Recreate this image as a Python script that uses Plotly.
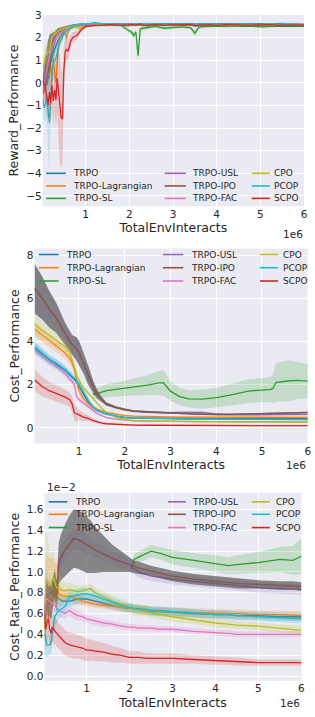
import plotly.graph_objects as go

W, H = 315, 717

methods = ["TRPO", "TRPO-Lagrangian", "TRPO-SL", "TRPO-USL", "TRPO-IPO",
           "TRPO-FAC", "CPO", "PCOP", "SCPO"]
line_colors = ["#1f77b4", "#ff7f0e", "#2ca02c", "#9467bd", "#8c564b",
               "#e377c2", "#bcbd22", "#17becf", "#d62728"]
band_colors = ["rgba(31,119,180,0.2)", "rgba(255,127,14,0.2)", "rgba(44,160,44,0.2)",
               "rgba(148,103,189,0.2)", "rgba(90,90,90,0.7)", "rgba(227,119,194,0.2)",
               "rgba(188,189,34,0.2)", "rgba(23,190,207,0.2)", "rgba(214,39,40,0.2)"]

x_ticks = [1, 2, 3, 4, 5, 6]

# ---------------- Reward_Performance ----------------
reward_x = [0.02, 0.05, 0.08, 0.11, 0.14, 0.17, 0.2, 0.23, 0.26, 0.29, 0.32, 0.35, 0.38,
            0.41, 0.44, 0.47, 0.5, 0.53, 0.56, 0.6, 0.65, 0.7, 0.75, 0.8, 0.9, 1.0,
            1.1, 1.2, 1.4, 1.6, 1.8, 2.0, 2.05, 2.1, 2.15, 2.2, 2.25, 2.3, 2.4, 2.6, 2.8,
            3.0, 3.2, 3.4, 3.5, 3.6, 3.8, 4.0, 4.2, 4.4, 4.6, 4.8, 5.0, 5.2, 5.4, 5.6,
            5.8, 6.0]
reward_trpo = [-0.5, -0.3, 0.0, 0.3, 0.5, 0.7, 1.0, 1.2, 1.35, 1.5, 1.65, 1.8, 1.95, 2.05,
               2.1, 2.2, 2.3, 2.35, 2.4, 2.45, 2.5, 2.55, 2.57, 2.58, 2.6, 2.58,
               2.57, 2.6, 2.58, 2.61, 2.59, 2.6, 2.58, 2.61, 2.6, 2.59, 2.62, 2.6, 2.58, 2.6,
               2.61, 2.59, 2.6, 2.62, 2.6, 2.58, 2.6, 2.61, 2.59, 2.6, 2.62, 2.6, 2.59, 2.61,
               2.6, 2.58, 2.6, 2.59]
reward_lag = [-0.2, -0.3, -0.1, 0.1, 0.3, 0.2, 0.8, 0.3, 1.1, 0.5, 0.0, 0.9, 1.7, 1.9, 2.0,
              2.1, 2.25, 2.3, 1.95, 2.3, 2.4, 2.45, 2.5, 2.52, 2.55, 2.55,
              2.56, 2.58, 2.55, 2.57, 2.56, 2.58, 2.57, 2.55, 2.58, 2.56, 2.57, 2.55, 2.58,
              2.56, 2.57, 2.59, 2.56, 2.55, 2.57, 2.58, 2.56, 2.57, 2.55, 2.58, 2.56, 2.57,
              2.58, 2.56, 2.55, 2.57, 2.56, 2.57]
reward_sl = [None, None, None, None, None, None, None, None, None, None, None, None, None,
             None, None, None, None, None, None, None, None, None, None,
             2.55, 2.57, 2.56, 2.58, 2.57, 2.56, 2.55, 2.56, 2.3, 2.25, 2.1, 2.25, 1.2, 2.4,
             2.42, 2.45, 2.5, 2.42, 2.45, 2.48, 2.45, 2.2, 2.48, 2.5, 2.52, 2.5, 2.53, 2.5,
             2.52, 2.48, 2.5, 2.52, 2.5, 2.51, 2.5]
reward_usl = [-0.2, 0.3, 0.6, 0.9, 1.1, 1.3, 1.55, 1.75, 1.9, 2.0, 2.1, 2.2, 2.25, 2.3, 2.32,
              2.35, 2.4, 2.42, 2.45, 2.47, 2.5, 2.52, 2.55, 2.56, 2.57, 2.58,
              2.58, 2.57, 2.59, 2.57, 2.58, 2.6, 2.57, 2.58, 2.59, 2.57, 2.58, 2.6, 2.57,
              2.59, 2.58, 2.57, 2.6, 2.58, 2.57, 2.59, 2.58, 2.6, 2.57, 2.58, 2.59, 2.6,
              2.58, 2.57, 2.62, 2.58, 2.59, 2.58]
reward_ipo = [0.0, 0.2, 0.5, 0.8, 0.9, 1.2, 1.5, 1.7, 1.85, 1.95, 2.1, 2.2, 2.25, 2.3, 2.35,
              2.38, 2.4, 2.42, 2.45, 2.48, 2.5, 2.52, 2.55, 2.56, 2.57, 2.57,
              2.58, 2.56, 2.57, 2.59, 2.57, 2.56, 2.58, 2.57, 2.56, 2.58, 2.57, 2.59, 2.56,
              2.57, 2.58, 2.56, 2.57, 2.59, 2.57, 2.56, 2.58, 2.57, 2.58, 2.56, 2.57, 2.58,
              2.6, 2.57, 2.58, 2.57, 2.56, 2.57]
reward_fac = [-0.35, 0.0, 0.3, 0.65, 0.9, 1.2, 1.4, 1.6, 1.75, 1.85, 2.0, 2.1, 2.15, 2.2,
              2.25, 2.3, 2.32, 2.35, 2.4, 2.42, 2.45, 2.5, 2.52, 2.55, 2.56, 2.57,
              2.57, 2.59, 2.58, 2.56, 2.58, 2.59, 2.57, 2.58, 2.6, 2.58, 2.57, 2.59, 2.58,
              2.6, 2.57, 2.58, 2.59, 2.57, 2.58, 2.6, 2.58, 2.57, 2.59, 2.58, 2.6, 2.58,
              2.57, 2.59, 2.58, 2.6, 2.58, 2.6]
reward_cpo = [0.6, 0.9, 1.2, 1.25, 1.4, 1.35, 1.8, 2.05, 2.1, 2.2, 2.2, 2.25, 2.3, 2.35,
              2.35, 2.4, 2.42, 2.45, 2.45, 2.48, 2.5, 2.52, 2.5, 2.45, 2.42, 2.5,
              2.55, 2.56, 2.57, 2.55, 2.56, 2.58, 2.56, 2.55, 2.57, 2.56, 2.58, 2.55, 2.56,
              2.57, 2.55, 2.56, 2.58, 2.56, 2.55, 2.57, 2.56, 2.55, 2.57, 2.56, 2.58, 2.55,
              2.56, 2.57, 2.55, 2.56, 2.57, 2.56]
reward_pcop = [-0.7, -1.1, -0.9, -0.5, -1.2, -1.75, -0.7, 0.5, 0.85, 1.0, 1.1, 1.35, 1.6,
               1.8, 1.9, 2.05, 2.15, 2.25, 2.3, 2.35, 2.45, 2.5, 2.55, 2.58, 2.6, 2.6,
               2.62, 2.68, 2.6, 2.62, 2.58, 2.6, 2.61, 2.59, 2.62, 2.6, 2.58, 2.61, 2.6,
               2.62, 2.59, 2.6, 2.61, 2.6, 2.58, 2.62, 2.6, 2.59, 2.61, 2.6, 2.62, 2.6,
               2.59, 2.61, 2.6, 2.62, 2.58, 2.55]
reward_scpo = [0.1, -0.05, -0.2, -0.6, -1.0, -0.4, -0.9, -0.1, -0.8, -0.3, -0.75, 0.2,
               -0.5, -1.2, -1.55, -1.6, 0.5, 1.35, 1.5, 1.4, 1.8, 2.0, 2.05, 2.1, 2.35, 2.5,
               2.52, 2.55, 2.56, 2.58, 2.55, 2.57, 2.56, 2.58, 2.55, 2.57, 2.6, 2.56, 2.55,
               2.58, 2.55, 2.57, 2.56, 2.58, 2.52, 2.56, 2.57, 2.55, 2.58, 2.56, 2.57, 2.55,
               2.56, 2.58, 2.55, 2.57, 2.56, 2.56]

# spread (std) of the reward runs: first 26 points per method, then a shared plateau part
reward_sd_late = [0.05, 0.04, 0.05, 0.04, 0.05, 0.06, 0.05, 0.04, 0.05, 0.05, 0.04, 0.05,
                  0.06, 0.05, 0.04, 0.05, 0.05, 0.04, 0.05, 0.06, 0.05, 0.04, 0.05, 0.05,
                  0.04, 0.05, 0.05, 0.04, 0.05, 0.06, 0.05, 0.04]
reward_sd_trpo = [0.5, 0.5, 0.5, 0.5, 0.45, 0.45, 0.4, 0.35, 0.3, 0.3, 0.25, 0.25, 0.2,
                  0.2, 0.15, 0.15, 0.12, 0.12, 0.1, 0.1, 0.08, 0.06, 0.05, 0.05, 0.05, 0.05]
reward_sd_lag = [0.4, 0.5, 0.5, 0.6, 0.6, 0.7, 0.6, 0.7, 0.6, 0.8, 0.9, 0.6, 0.3, 0.25,
                 0.2, 0.2, 0.15, 0.15, 0.3, 0.12, 0.1, 0.08, 0.06, 0.05, 0.05, 0.05]
reward_sd_sl = [None, None, None, None, None, None, None, None, None, None, None, None,
                None, None, None, None, None, None, None, None, None, None, None,
                0.05, 0.05, 0.05, 0.05, 0.05, 0.05, 0.05, 0.05, 0.1, 0.12, 0.15, 0.12, 0.25,
                0.1, 0.08, 0.08, 0.06, 0.08, 0.07, 0.06, 0.07, 0.15, 0.07, 0.06, 0.05, 0.06,
                0.05, 0.06, 0.05, 0.06, 0.05, 0.05, 0.06, 0.05, 0.05]
reward_sd_usl = [0.5, 0.5, 0.5, 0.45, 0.4, 0.35, 0.3, 0.28, 0.25, 0.2, 0.18, 0.15, 0.12,
                 0.12, 0.1, 0.1, 0.08, 0.08, 0.07, 0.06, 0.05, 0.05, 0.05, 0.05, 0.05, 0.05]
reward_sd_ipo = [0.4, 0.6, 0.8, 0.9, 1.0, 0.9, 0.7, 0.5, 0.4, 0.3, 0.25, 0.2, 0.18, 0.15,
                 0.12, 0.1, 0.1, 0.08, 0.08, 0.07, 0.06, 0.05, 0.05, 0.05, 0.05, 0.05]
reward_sd_fac = [0.5, 0.5, 0.5, 0.45, 0.4, 0.35, 0.3, 0.25, 0.22, 0.2, 0.18, 0.15, 0.12,
                 0.12, 0.1, 0.1, 0.08, 0.08, 0.07, 0.06, 0.05, 0.05, 0.05, 0.05, 0.05, 0.05]
reward_sd_cpo = [0.6, 0.6, 0.5, 0.5, 0.45, 0.4, 0.35, 0.3, 0.25, 0.2, 0.2, 0.18, 0.15,
                 0.15, 0.12, 0.1, 0.1, 0.1, 0.1, 0.1, 0.1, 0.1, 0.1, 0.12, 0.12, 0.08]
reward_sd_pcop = [0.5, 0.6, 0.8, 1.0, 1.8, 2.2, 1.2, 0.7, 0.6, 0.5, 0.45, 0.4, 0.35, 0.3,
                  0.25, 0.2, 0.2, 0.15, 0.15, 0.12, 0.1, 0.08, 0.06, 0.05, 0.05, 0.05]
reward_sd_scpo = [0.3, 0.4, 0.5, 0.7, 0.8, 0.8, 1.0, 0.9, 1.2, 1.0, 1.3, 1.5, 2.0, 2.4,
                  2.2, 2.0, 1.2, 0.6, 0.5, 0.4, 0.3, 0.25, 0.2, 0.2, 0.12, 0.08]

# ---------------- Cost_Performance ----------------
cost_x = [0.03, 0.2, 0.35, 0.5, 0.7, 0.8, 0.85, 0.9, 0.95, 1.0, 1.1, 1.2, 1.3, 1.4, 1.5,
          1.6, 1.8, 2.0, 2.2, 2.5, 2.75, 2.85, 2.9, 3.0, 3.2, 3.4, 3.7, 4.0, 4.3, 4.7,
          5.0, 5.2, 5.25, 5.3, 5.6, 5.8, 6.0]
cost_trpo = [3.7, 3.4, 3.15, 2.95, 2.65, 2.45, 2.35, 2.25, 2.1, 1.9, 1.55, 1.2, 0.95, 0.8,
             0.7, 0.63, 0.54, 0.48, 0.46, 0.45, 0.44, 0.44, 0.44, 0.43, 0.43, 0.43, 0.42,
             0.42, 0.42, 0.42, 0.42, 0.42, 0.42, 0.42, 0.42, 0.42, 0.42]
cost_lag = [4.57, 4.3, 4.05, 3.8, 3.45, 3.2, 3.0, 2.7, 2.2, 1.7, 1.35, 1.1, 0.95, 0.85,
            0.78, 0.72, 0.63, 0.57, 0.54, 0.52, 0.51, 0.5, 0.5, 0.5, 0.5, 0.5, 0.49, 0.49,
            0.49, 0.49, 0.49, 0.49, 0.48, 0.48, 0.48, 0.48, 0.48]
cost_sl = [None, None, None, None, None, None, None, None, None, None, None, None,
           1.55, 1.58, 1.65, 1.72, 1.78, 1.83, 1.9, 1.98, 2.08, 2.08, 1.95, 1.7, 1.45, 1.34,
           1.33, 1.4, 1.52, 1.7, 1.75, 1.78, 1.85, 2.1, 2.18, 2.2, 2.16]
cost_usl = [6.45, 6.0, 5.5, 5.1, 4.35, 4.0, 3.85, 3.75, 3.65, 3.5, 3.0, 2.45, 1.95, 1.55,
            1.3, 1.1, 0.95, 0.84, 0.76, 0.72, 0.7, 0.69, 0.69, 0.7, 0.72, 0.73, 0.72, 0.63,
            0.6, 0.6, 0.6, 0.6, 0.6, 0.61, 0.61, 0.62, 0.62]
cost_ipo = [6.45, 6.0, 5.5, 5.1, 4.35, 4.0, 3.85, 3.75, 3.65, 3.5, 3.0, 2.45, 1.95, 1.55,
            1.3, 1.1, 0.95, 0.84, 0.78, 0.74, 0.71, 0.7, 0.7, 0.69, 0.67, 0.65, 0.63, 0.61,
            0.62, 0.64, 0.65, 0.66, 0.66, 0.67, 0.68, 0.7, 0.71]
cost_fac = [3.6, 3.3, 3.05, 2.85, 2.5, 2.25, 2.15, 1.98, 1.45, 1.3, 1.15, 1.0, 0.82, 0.65,
            0.55, 0.47, 0.4, 0.35, 0.32, 0.31, 0.3, 0.3, 0.3, 0.3, 0.3, 0.29, 0.29, 0.29,
            0.29, 0.29, 0.28, 0.28, 0.28, 0.28, 0.28, 0.28, 0.28]
cost_cpo = [4.8, 4.5, 4.3, 4.05, 3.75, 3.5, 3.2, 2.8, 2.45, 2.2, 1.85, 1.6, 1.35, 1.12,
            0.9, 0.7, 0.5, 0.38, 0.34, 0.32, 0.31, 0.3, 0.3, 0.3, 0.29, 0.29, 0.28, 0.28,
            0.27, 0.27, 0.27, 0.26, 0.26, 0.26, 0.26, 0.26, 0.26]
cost_pcop = [3.75, 3.45, 3.2, 3.0, 2.7, 2.5, 2.4, 2.3, 2.2, 2.05, 1.65, 1.3, 1.0, 0.82,
             0.72, 0.66, 0.55, 0.47, 0.45, 0.44, 0.43, 0.43, 0.42, 0.42, 0.41, 0.41, 0.4,
             0.4, 0.4, 0.39, 0.39, 0.39, 0.39, 0.39, 0.38, 0.38, 0.38]
cost_scpo = [2.22, 1.9, 1.72, 1.6, 1.42, 1.3, 1.1, 0.7, 0.63, 0.6, 0.5, 0.44, 0.34, 0.27,
             0.22, 0.19, 0.16, 0.14, 0.13, 0.12, 0.12, 0.11, 0.11, 0.11, 0.11, 0.11, 0.1,
             0.1, 0.1, 0.1, 0.1, 0.1, 0.1, 0.1, 0.1, 0.1, 0.1]

cost_sd_trpo = [0.25, 0.22, 0.2, 0.2, 0.18, 0.16, 0.15, 0.15, 0.15, 0.14, 0.12, 0.1, 0.08,
                0.06, 0.05, 0.05, 0.04, 0.04, 0.04, 0.04, 0.04, 0.04, 0.04, 0.04, 0.04,
                0.04, 0.04, 0.04, 0.04, 0.04, 0.04, 0.04, 0.04, 0.04, 0.04, 0.04, 0.04]
cost_sd_lag = [0.35, 0.32, 0.3, 0.28, 0.25, 0.24, 0.22, 0.22, 0.22, 0.2, 0.15, 0.1, 0.08,
               0.06, 0.05, 0.05, 0.04, 0.04, 0.04, 0.04, 0.04, 0.04, 0.04, 0.04, 0.04,
               0.04, 0.04, 0.04, 0.04, 0.04, 0.04, 0.04, 0.04, 0.04, 0.04, 0.04, 0.04]
cost_sd_sl = [None, None, None, None, None, None, None, None, None, None, None, None,
              0.2, 0.25, 0.28, 0.3, 0.32, 0.35, 0.4, 0.45, 0.55, 0.6, 0.55, 0.45, 0.4,
              0.4, 0.45, 0.45, 0.5, 0.55, 0.55, 0.6, 0.7, 0.9, 0.95, 0.85, 0.8]
cost_sd_usl = [1.1, 0.95, 0.8, 0.65, 0.45, 0.4, 0.4, 0.45, 0.5, 0.5, 0.45, 0.4, 0.28,
               0.18, 0.1, 0.07, 0.05, 0.05, 0.05, 0.05, 0.05, 0.05, 0.05, 0.05, 0.05,
               0.05, 0.05, 0.05, 0.05, 0.05, 0.05, 0.05, 0.05, 0.05, 0.05, 0.05, 0.05]
cost_sd_ipo = [1.15, 1.0, 0.85, 0.7, 0.5, 0.45, 0.45, 0.5, 0.55, 0.55, 0.5, 0.45, 0.3, 0.2,
               0.12, 0.08, 0.06, 0.05, 0.04, 0.04, 0.04, 0.04, 0.04, 0.04, 0.04, 0.04,
               0.04, 0.04, 0.04, 0.04, 0.04, 0.04, 0.04, 0.04, 0.04, 0.04, 0.04]
cost_sd_fac = [0.2, 0.18, 0.17, 0.16, 0.15, 0.15, 0.14, 0.14, 0.12, 0.1, 0.08, 0.07, 0.06,
               0.05, 0.04, 0.04, 0.03, 0.03, 0.03, 0.03, 0.03, 0.03, 0.03, 0.03, 0.03,
               0.03, 0.03, 0.03, 0.03, 0.03, 0.03, 0.03, 0.03, 0.03, 0.03, 0.03, 0.03]
cost_sd_cpo = [0.5, 0.45, 0.4, 0.35, 0.3, 0.25, 0.2, 0.2, 0.18, 0.15, 0.12, 0.1, 0.08,
               0.06, 0.05, 0.04, 0.04, 0.04, 0.04, 0.04, 0.04, 0.04, 0.04, 0.04, 0.04,
               0.04, 0.04, 0.04, 0.04, 0.04, 0.04, 0.04, 0.04, 0.04, 0.04, 0.04, 0.04]
cost_sd_pcop = [0.25, 0.22, 0.2, 0.2, 0.18, 0.16, 0.15, 0.15, 0.14, 0.13, 0.12, 0.1, 0.08,
                0.06, 0.05, 0.04, 0.04, 0.04, 0.04, 0.04, 0.04, 0.04, 0.04, 0.04, 0.04,
                0.04, 0.04, 0.04, 0.04, 0.04, 0.04, 0.04, 0.04, 0.04, 0.04, 0.04, 0.04]
cost_sd_scpo = [0.5, 0.45, 0.4, 0.38, 0.35, 0.33, 0.35, 0.4, 0.35, 0.25, 0.18, 0.12, 0.1,
                0.08, 0.06, 0.05, 0.04, 0.03, 0.03, 0.03, 0.03, 0.03, 0.03, 0.03, 0.03,
                0.03, 0.03, 0.03, 0.03, 0.03, 0.03, 0.03, 0.03, 0.03, 0.03, 0.03, 0.03]

# ---------------- Cost_Rate_Performance (units of 1e-2) ----------------
rate_x = [0.02, 0.05, 0.08, 0.11, 0.14, 0.17, 0.2, 0.23, 0.26, 0.3, 0.35, 0.4, 0.45, 0.5,
          0.6, 0.7, 0.8, 0.9, 1.0, 1.1, 1.2, 1.4, 1.6, 1.8, 2.0, 2.05, 2.1, 2.2, 2.4, 2.5,
          2.7, 3.0, 3.5, 4.0, 4.3, 4.5, 5.0, 5.5, 5.8, 6.0]
rate_trpo = [0.5, 0.7, 0.75, 0.78, 0.8, 0.8, 0.82, 0.8, 0.78, 0.76, 0.74, 0.73, 0.72, 0.72,
             0.72, 0.73, 0.74, 0.74, 0.74, 0.73, 0.72, 0.7, 0.68, 0.66, 0.65, 0.65, 0.64,
             0.64, 0.63, 0.62, 0.62, 0.61, 0.6, 0.59, 0.59, 0.58, 0.58, 0.57, 0.57, 0.57]
rate_lag = [0.46, 0.8, 0.82, 0.84, 0.84, 0.85, 0.88, 0.9, 0.88, 0.92, 0.79, 0.78, 0.77,
            0.77, 0.77, 0.75, 0.74, 0.72, 0.71, 0.7, 0.69, 0.68, 0.67, 0.66, 0.65, 0.65,
            0.65, 0.64, 0.63, 0.63, 0.62, 0.62, 0.61, 0.6, 0.6, 0.6, 0.59, 0.59, 0.58, 0.58]
rate_sl = [None, None, None, None, None, None, None, None, None, None, None, None, None,
           None, None, None, None, None, None, None, None, None, None, None, None,
           1.04, 1.12, 1.14, 1.18, 1.2, 1.18, 1.14, 1.11, 1.08, 1.06, 1.07, 1.09, 1.12,
           1.11, 1.15]
rate_usl = [0.62, 0.72, 0.79, 0.7, 0.74, 0.69, 0.76, 0.85, 0.88, 0.76, 1.08, 1.14, 1.18,
            1.21, 1.27, 1.32, 1.31, 1.29, 1.26, 1.24, 1.21, 1.17, 1.13, 1.1, 1.07, 1.05,
            1.03, 1.0, 0.97, 0.96, 0.95, 0.93, 0.91, 0.89, 0.88, 0.87, 0.85, 0.84, 0.83,
            0.83]
rate_ipo = [0.62, 0.72, 0.79, 0.7, 0.74, 0.69, 0.76, 0.85, 0.88, 0.76, 1.08, 1.14, 1.18,
            1.21, 1.27, 1.32, 1.31, 1.29, 1.26, 1.24, 1.21, 1.17, 1.13, 1.1, 1.07, 1.06,
            1.05, 1.04, 1.02, 1.01, 0.99, 0.96, 0.93, 0.91, 0.9, 0.89, 0.88, 0.87, 0.87,
            0.86]
rate_fac = [0.6, 0.72, 0.74, 0.73, 0.72, 0.71, 0.7, 0.69, 0.68, 0.66, 0.63, 0.62, 0.61,
            0.6, 0.63, 0.6, 0.58, 0.57, 0.55, 0.54, 0.53, 0.51, 0.5, 0.48, 0.47, 0.47,
            0.47, 0.46, 0.46, 0.46, 0.45, 0.45, 0.43, 0.42, 0.41, 0.4, 0.4, 0.4, 0.4, 0.4]
rate_cpo = [0.44, 0.9, 0.92, 0.88, 0.87, 0.87, 0.93, 0.95, 0.9, 0.85, 0.84, 0.83, 0.82,
            0.82, 0.83, 0.82, 0.81, 0.82, 0.83, 0.84, 0.8, 0.76, 0.72, 0.69, 0.66, 0.65,
            0.64, 0.63, 0.62, 0.61, 0.59, 0.57, 0.54, 0.51, 0.5, 0.49, 0.48, 0.46, 0.45,
            0.44]
rate_pcop = [0.41, 0.35, 0.3, 0.3, 0.3, 0.32, 0.41, 0.5, 0.57, 0.6, 0.63, 0.64, 0.66, 0.67,
             0.76, 0.77, 0.78, 0.79, 0.79, 0.78, 0.77, 0.74, 0.71, 0.68, 0.66, 0.66, 0.65,
             0.65, 0.64, 0.63, 0.63, 0.62, 0.61, 0.59, 0.59, 0.58, 0.57, 0.56, 0.55, 0.55]
rate_scpo = [0.6, 0.45, 0.52, 0.55, 0.45, 0.41, 0.47, 0.45, 0.43, 0.41, 0.39, 0.37, 0.34,
             0.32, 0.3, 0.29, 0.28, 0.27, 0.25, 0.25, 0.24, 0.23, 0.21, 0.2, 0.18, 0.18,
             0.18, 0.18, 0.17, 0.17, 0.17, 0.17, 0.16, 0.15, 0.15, 0.14, 0.13, 0.13, 0.13,
             0.13]

rate_sd_trpo = [0.2, 0.2, 0.18, 0.15, 0.12, 0.1, 0.1, 0.08, 0.08, 0.07, 0.06, 0.06, 0.05,
                0.05, 0.05, 0.05, 0.05, 0.05, 0.05, 0.05, 0.05, 0.04, 0.04, 0.04, 0.04,
                0.04, 0.04, 0.04, 0.04, 0.04, 0.04, 0.04, 0.04, 0.04, 0.04, 0.04, 0.04,
                0.04, 0.04, 0.04]
rate_sd_lag = [0.3, 0.35, 0.35, 0.3, 0.3, 0.28, 0.25, 0.22, 0.2, 0.18, 0.1, 0.08, 0.07,
               0.06, 0.05, 0.05, 0.05, 0.04, 0.04, 0.04, 0.04, 0.04, 0.04, 0.04, 0.04,
               0.04, 0.04, 0.04, 0.04, 0.04, 0.04, 0.04, 0.04, 0.04, 0.04, 0.04, 0.04,
               0.04, 0.04, 0.04]
rate_sd_sl = [None, None, None, None, None, None, None, None, None, None, None, None, None,
              None, None, None, None, None, None, None, None, None, None, None, None,
              0.04, 0.05, 0.05, 0.06, 0.06, 0.06, 0.07, 0.07, 0.08, 0.08, 0.09, 0.1, 0.12,
              0.14, 0.17]
rate_sd_usl = [0.3, 0.3, 0.25, 0.2, 0.18, 0.15, 0.15, 0.12, 0.12, 0.1, 0.1, 0.1, 0.1,
               0.1, 0.1, 0.1, 0.1, 0.1, 0.1, 0.08, 0.08, 0.07, 0.06, 0.06, 0.05, 0.05,
               0.05, 0.05, 0.05, 0.05, 0.05, 0.05, 0.05, 0.05, 0.05, 0.05, 0.05, 0.05,
               0.05, 0.05]
rate_sd_ipo = [0.15, 0.15, 0.15, 0.15, 0.15, 0.15, 0.15, 0.15, 0.15, 0.15, 0.2, 0.22, 0.24,
               0.25, 0.27, 0.28, 0.28, 0.28, 0.27, 0.25, 0.22, 0.17, 0.13, 0.1, 0.07, 0.06,
               0.06, 0.06, 0.05, 0.05, 0.05, 0.05, 0.05, 0.05, 0.05, 0.05, 0.04, 0.04,
               0.04, 0.04]
rate_sd_fac = [0.15, 0.15, 0.12, 0.1, 0.1, 0.08, 0.08, 0.07, 0.07, 0.06, 0.06, 0.05, 0.05,
               0.05, 0.05, 0.05, 0.05, 0.04, 0.04, 0.04, 0.04, 0.04, 0.03, 0.03, 0.03,
               0.03, 0.03, 0.03, 0.03, 0.03, 0.03, 0.03, 0.03, 0.03, 0.03, 0.03, 0.03,
               0.03, 0.03, 0.03]
rate_sd_cpo = [0.3, 0.5, 0.45, 0.4, 0.35, 0.3, 0.28, 0.25, 0.22, 0.2, 0.15, 0.12, 0.1,
               0.08, 0.07, 0.06, 0.06, 0.05, 0.05, 0.05, 0.05, 0.05, 0.05, 0.05, 0.05,
               0.05, 0.05, 0.05, 0.05, 0.05, 0.05, 0.05, 0.04, 0.04, 0.04, 0.04, 0.04,
               0.04, 0.04, 0.04]
rate_sd_pcop = [0.15, 0.15, 0.12, 0.1, 0.1, 0.1, 0.12, 0.12, 0.1, 0.1, 0.08, 0.08, 0.07,
                0.07, 0.06, 0.06, 0.06, 0.06, 0.06, 0.06, 0.05, 0.05, 0.05, 0.04, 0.04,
                0.04, 0.04, 0.04, 0.04, 0.04, 0.04, 0.04, 0.04, 0.04, 0.04, 0.04, 0.04,
                0.04, 0.04, 0.04]
rate_sd_scpo = [0.2, 0.2, 0.18, 0.16, 0.15, 0.15, 0.14, 0.14, 0.13, 0.13, 0.12, 0.12, 0.12,
                0.12, 0.12, 0.12, 0.11, 0.11, 0.11, 0.1, 0.1, 0.09, 0.08, 0.07, 0.06, 0.06,
                0.06, 0.06, 0.05, 0.05, 0.05, 0.05, 0.04, 0.04, 0.04, 0.04, 0.03, 0.03,
                0.03, 0.03]

reward_series = [reward_trpo, reward_lag, reward_sl, reward_usl, reward_ipo, reward_fac,
                 reward_cpo, reward_pcop, reward_scpo]
reward_sds = [reward_sd_trpo + reward_sd_late, reward_sd_lag + reward_sd_late, reward_sd_sl,
              reward_sd_usl + reward_sd_late, reward_sd_ipo + reward_sd_late,
              reward_sd_fac + reward_sd_late, reward_sd_cpo + reward_sd_late,
              reward_sd_pcop + reward_sd_late, reward_sd_scpo + reward_sd_late]
cost_series = [cost_trpo, cost_lag, cost_sl, cost_usl, cost_ipo, cost_fac, cost_cpo,
               cost_pcop, cost_scpo]
cost_sds = [cost_sd_trpo, cost_sd_lag, cost_sd_sl, cost_sd_usl, cost_sd_ipo, cost_sd_fac,
            cost_sd_cpo, cost_sd_pcop, cost_sd_scpo]
rate_series = [rate_trpo, rate_lag, rate_sl, rate_usl, rate_ipo, rate_fac, rate_cpo,
               rate_pcop, rate_scpo]
rate_sds = [rate_sd_trpo, rate_sd_lag, rate_sd_sl, rate_sd_usl, rate_sd_ipo, rate_sd_fac,
            rate_sd_cpo, rate_sd_pcop, rate_sd_scpo]

panels = [
    dict(x=reward_x, ys=reward_series, sds=reward_sds, ax="x", ay="y"),
    dict(x=cost_x, ys=cost_series, sds=cost_sds, ax="x2", ay="y2"),
    dict(x=rate_x, ys=rate_series, sds=rate_sds, ax="x3", ay="y3"),
]

fig = go.Figure()
for p in panels:
    for i, name in enumerate(methods):
        pts = [(a, b, s) for a, b, s in zip(p["x"], p["ys"][i], p["sds"][i]) if b is not None]
        xs = [q[0] for q in pts]
        ys = [q[1] for q in pts]
        up = [q[1] + q[2] for q in pts]
        lo = [q[1] - q[2] for q in pts]
        fig.add_trace(go.Scatter(x=xs + xs[::-1], y=up + lo[::-1], fill="toself",
                                 fillcolor=band_colors[i], line=dict(width=0),
                                 mode="lines", hoverinfo="skip", showlegend=False,
                                 xaxis=p["ax"], yaxis=p["ay"]))
        fig.add_trace(go.Scatter(x=xs, y=ys, mode="lines", name=name,
                                 line=dict(color=line_colors[i], width=1.3),
                                 showlegend=False, xaxis=p["ax"], yaxis=p["ay"]))

def px_x(v):
    return v / W

def px_y(v):
    return 1 - v / H

# plot-area boxes in pixels: left, right, top, bottom
boxes = [(43.3, 308.0, 9.0, 202.3), (35.0, 311.7, 245.0, 441.7), (45.0, 305.3, 491.7, 681.5)]
yranges = [[-5.46, 3.01], [-0.72, 8.3], [-0.045, 1.758]]
xranges = [[0.018, 6.0], [0.029, 6.0], [0.018, 6.0]]
ytitles = ["Reward_Performance", "Cost_Performance", "Cost_Rate_Performance"]
ydticks = [1, 2, 0.2]
yformats = ["", "", ".1f"]

axis_common = dict(showgrid=True, gridcolor="white", gridwidth=1, zeroline=False,
                   showline=False, ticks="", tickfont=dict(size=10.5, color="#262626"))
layout_axes = {}
for k, (l, r, t, b) in enumerate(boxes):
    sx = "" if k == 0 else str(k + 1)
    layout_axes["xaxis" + sx] = dict(domain=[px_x(l), px_x(r)], range=xranges[k],
                                     anchor="y" + sx, tickmode="array", tickvals=x_ticks,
                                     title=dict(text="TotalEnvInteracts", font=dict(size=12.5),
                                                standoff=4),
                                     **axis_common)
    layout_axes["yaxis" + sx] = dict(domain=[px_y(b), px_y(t)], range=yranges[k],
                                     anchor="x" + sx, dtick=ydticks[k], tick0=0,
                                     tickformat=yformats[k],
                                     title=dict(text=ytitles[k], font=dict(size=12.5),
                                                standoff=4),
                                     **axis_common)

fig.update_layout(width=W, height=H, margin=dict(l=0, r=0, t=0, b=0),
                  paper_bgcolor="white", plot_bgcolor="#EAEAF2", showlegend=False,
                  font=dict(family="DejaVu Sans", color="#262626", size=10.5),
                  **layout_axes)

# legends drawn as swatch lines + text, three columns per panel
legend_rows = [(169.0, 181.7, 194.3), (251.0, 264.3, 277.7), (500.7, 513.3, 526.7)]
legend_cols = [((46.7, 66.7, 71.7), (166.7, 188.3, 192.7), (255.0, 273.3, 276.0)),
               ((39.3, 59.3, 65.0), (165.0, 185.7, 191.0), (263.3, 281.7, 285.0)),
               ((49.3, 68.3, 74.0), (170.0, 188.3, 192.7), (255.0, 273.3, 277.3))]
shapes = []
annotations = []
for k in range(3):
    for i, name in enumerate(methods):
        c, r = i // 3, i % 3
        x0, x1, xt = legend_cols[k][c]
        yy = legend_rows[k][r]
        shapes.append(dict(type="line", xref="paper", yref="paper", x0=px_x(x0), x1=px_x(x1),
                           y0=px_y(yy), y1=px_y(yy),
                           line=dict(color=line_colors[i], width=1.6)))
        annotations.append(dict(text=name, xref="paper", yref="paper", x=px_x(xt),
                                y=px_y(yy), xanchor="left", yanchor="middle",
                                showarrow=False, font=dict(size=9, color="#262626")))

# offset texts
annotations.append(dict(text="1e6", xref="paper", yref="paper", x=px_x(309), y=px_y(230),
                        xanchor="right", yanchor="middle", showarrow=False,
                        font=dict(size=10.5)))
annotations.append(dict(text="1e6", xref="paper", yref="paper", x=px_x(312), y=px_y(464),
                        xanchor="right", yanchor="middle", showarrow=False,
                        font=dict(size=10.5)))
annotations.append(dict(text="1e6", xref="paper", yref="paper", x=px_x(306), y=px_y(704),
                        xanchor="right", yanchor="middle", showarrow=False,
                        font=dict(size=10.5)))
annotations.append(dict(text="1e\u22122", xref="paper", yref="paper", x=px_x(45.5),
                        y=px_y(486), xanchor="left", yanchor="middle", showarrow=False,
                        font=dict(size=10.5)))

fig.update_layout(shapes=shapes, annotations=annotations)
fig.write_html("out.html", config=dict(displayModeBar=False),
               post_script="document.body.style.margin='0';"
                           "document.body.style.overflow='hidden';")
